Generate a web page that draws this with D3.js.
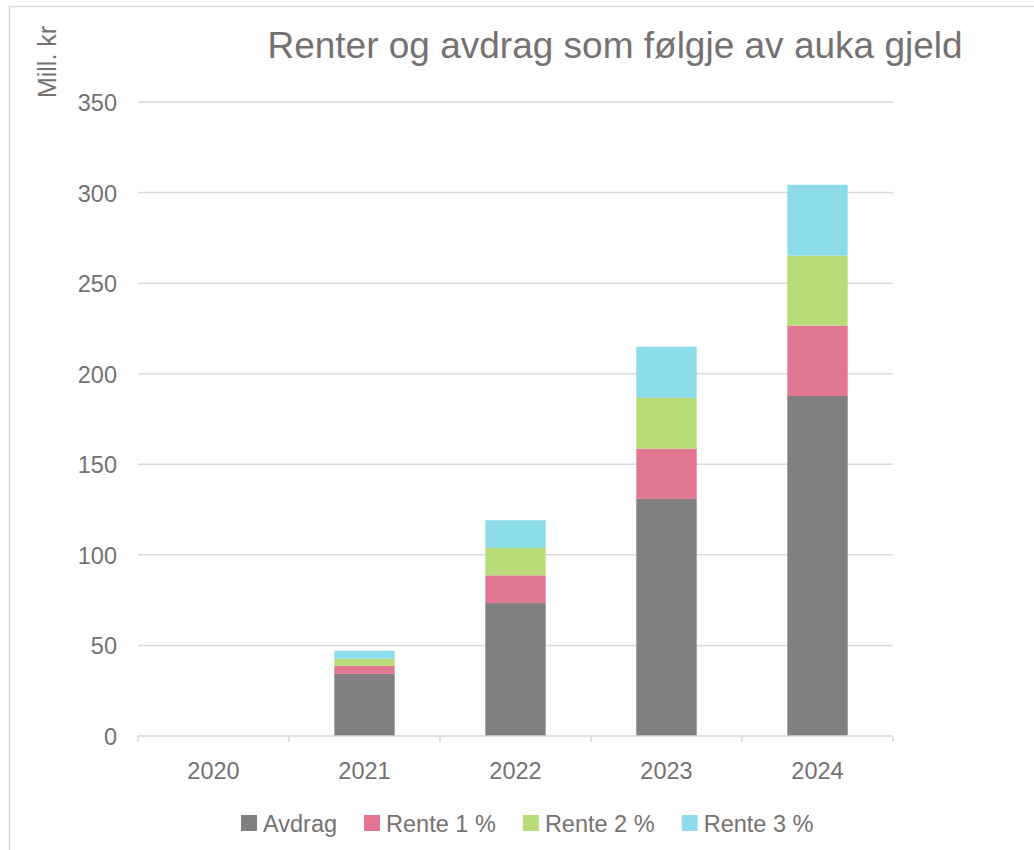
<!DOCTYPE html>
<html>
<head>
<meta charset="utf-8">
<script src="https://cdn.jsdelivr.net/npm/d3@7"></script>
<style>
body{margin:0;background:#fff;}
text{font-family:Arial,"Liberation Sans",sans-serif;fill:#767171;}
</style>
</head>
<body>
<svg id="chart" width="1034" height="850"></svg>
<script>
var years = ["2020","2021","2022","2023","2024"];
var seriesNames = ["Avdrag","Rente 1 %","Rente 2 %","Rente 3 %"];
var avdrag = [0, 34.3, 73.4, 130.9, 187.7];
var rente1 = [0, 4.4, 15.3, 27.7, 38.9];
var rente2 = [0, 4.0, 15.1, 28.1, 38.6];
var rente3 = [0, 4.4, 15.3, 28.2, 39.1];
var yTicks = [0, 50, 100, 150, 200, 250, 300, 350];
var colors = ["#808080","#e07690","#b8dc78","#8ddcea"];

var svg = d3.select("#chart");

/// outer frame
svg.append("rect").attr("x",9.5).attr("y",6.5).attr("width",1040).attr("height",860)
  .attr("fill","none").attr("stroke","#d9d9d9").attr("stroke-width",1.5);

var margin = {top: 102, left: 138, right: 141, bottom: 114};
var width = 1034 - margin.left - margin.right;
var height = 850 - margin.top - margin.bottom;

var g = svg.append("g").attr("transform","translate("+margin.left+","+margin.top+")");

var x = d3.scaleBand().domain(years).range([0,width]).paddingInner(0.6).paddingOuter(0.3);
var y = d3.scaleLinear().domain([0,350]).range([height,0]);

/// grid
g.append("g").selectAll("line").data(yTicks.slice(1)).join("line")
  .attr("x1",0).attr("x2",width)
  .attr("y1",d=>y(d)).attr("y2",d=>y(d))
  .attr("stroke","#d9d9d9").attr("stroke-width",1.5);

/// y labels
var yAxis = d3.axisLeft(y).tickValues(yTicks).tickSize(0).tickPadding(21);
g.append("g").call(yAxis)
  .call(a=>a.select(".domain").remove())
  .selectAll("text").style("font-size","23.5px").style("font-family","Arial,'Liberation Sans',sans-serif")
  .attr("fill","#767171").attr("dy","0.36em");

/// stacked data
var table = years.map(function(yr,i){
  return {year:yr, "Avdrag":avdrag[i], "Rente 1 %":rente1[i], "Rente 2 %":rente2[i], "Rente 3 %":rente3[i]};
});
var stack = d3.stack().keys(seriesNames)(table);

g.append("g").selectAll("g").data(stack).join("g")
  .attr("fill",(d,i)=>colors[i])
  .selectAll("rect").data(d=>d).join("rect")
  .attr("x",d=>x(d.data.year))
  .attr("width",x.bandwidth())
  .attr("y",d=>y(d[1]))
  .attr("height",d=>y(d[0])-y(d[1]));

/// x axis with category boundaries
var bounds = d3.range(years.length+1).map(i=>i*width/years.length);
var xa = g.append("g").attr("transform","translate(0,"+height+")");
xa.append("line").attr("x1",0).attr("x2",width).attr("stroke","#d9d9d9").attr("stroke-width",1.5);
xa.selectAll("line.tk").data(bounds).join("line").attr("class","tk")
  .attr("x1",d=>d).attr("x2",d=>d).attr("y1",0).attr("y2",6)
  .attr("stroke","#d9d9d9").attr("stroke-width",1.5);
xa.selectAll("text").data(years).join("text")
  .attr("x",d=>x(d)+x.bandwidth()/2).attr("y",43)
  .attr("text-anchor","middle").style("font-size","23.5px").text(d=>d);

/// title
svg.append("text").attr("x",615).attr("y",58).attr("text-anchor","middle")
  .style("font-size","37px").text("Renter og avdrag som følgje av auka gjeld");

/// y unit label
svg.append("text").attr("transform","translate(56,62) rotate(-90)")
  .attr("text-anchor","middle").style("font-size","25px").text("Mill. kr");

/// legend
var legend = svg.append("g");
var lx = 0;
var items = legend.selectAll("g").data(seriesNames).join("g");
items.append("rect").attr("width",16).attr("height",16).attr("y",-8).attr("fill",(d,i)=>colors[i]);
items.append("text").attr("x",22).attr("y",8.5).style("font-size","23.5px").text(d=>d);
items.each(function(){
  var w = this.getBBox().width;
  d3.select(this).attr("transform","translate("+lx+",0)");
  lx += w + 27;
});
legend.attr("transform","translate(241,823)");
</script>
</body>
</html>
